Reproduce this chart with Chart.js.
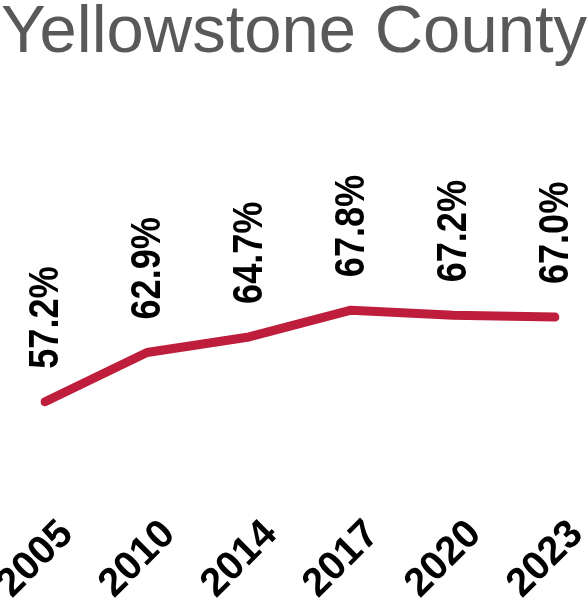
<!DOCTYPE html>
<html>
<head>
<meta charset="utf-8">
<script src="https://cdn.jsdelivr.net/npm/chart.js@4"></script>
<style>
  html, body { margin: 0; padding: 0; background: #fff; }
</style>
</head>
<body>
<canvas id="myChart" width="588" height="599"></canvas>
<script>
// data
var years = ['2005', '2010', '2014', '2017', '2020', '2023']
var pct = [57.2, 62.9, 64.7, 67.8, 67.2, 67.0]
var titleText = 'Yellowstone County'

var narrow = '"Liberation Sans Narrow", "Arial Narrow", "Liberation Sans", Arial, sans-serif'

// draws the rotated value labels above each point
var valueLabels = {
    id: 'valueLabels',
    afterDatasetsDraw: function (chart) {
        var ctx = chart.ctx
        var meta = chart.getDatasetMeta(0)
        ctx.save()
        ctx.font = 'bold 42px ' + narrow
        ctx.fillStyle = '#000'
        ctx.textAlign = 'left'
        ctx.textBaseline = 'middle'
        meta.data.forEach(function (pt, i) {
            ctx.save()
            ctx.translate(pt.x + 1, pt.y - 33)
            ctx.rotate(-Math.PI / 2)
            ctx.scale(0.86, 1)
            ctx.fillText(pct[i].toFixed(1) + '%', 0, 0)
            ctx.restore()
        })
        ctx.restore()
    }
}

const ctx = document.getElementById('myChart')
const chart = new Chart(ctx, {
    type: 'line',
    data: {
        labels: years,
        datasets: [{
            data: pct,
            borderColor: '#be1e3c',
            borderWidth: 9,
            borderCapStyle: 'round',
            borderJoinStyle: 'round',
            pointRadius: 0,
            tension: 0
        }]
    },
    options: {
        responsive: false,
        animation: false,
        devicePixelRatio: 1,
        layout: { padding: { left: 1, right: 0, top: 0, bottom: 0 } },
        plugins: {
            legend: { display: false },
            tooltip: { enabled: false },
            title: {
                display: true,
                text: titleText,
                align: 'start',
                color: '#595959',
                font: { family: '"Liberation Sans", Arial, sans-serif', size: 67, weight: 'normal' },
                padding: { top: -7, bottom: 20 }
            }
        },
        scales: {
            x: {
                offset: false,
                grid: { display: false },
                border: { display: false },
                ticks: {
                    color: '#000',
                    font: { family: narrow, size: 40, weight: 'bold' },
                    minRotation: 45,
                    maxRotation: 45,
                    labelOffset: 22,
                    padding: 8
                },
                afterFit: function (scale) {
                    scale.paddingLeft = 45
                    scale.paddingRight = 33
                    scale.height = 104
                }
            },
            y: {
                display: false,
                min: 46.4,
                max: 92.9
            }
        }
    },
    plugins: [valueLabels]
})
</script>
</body>
</html>
